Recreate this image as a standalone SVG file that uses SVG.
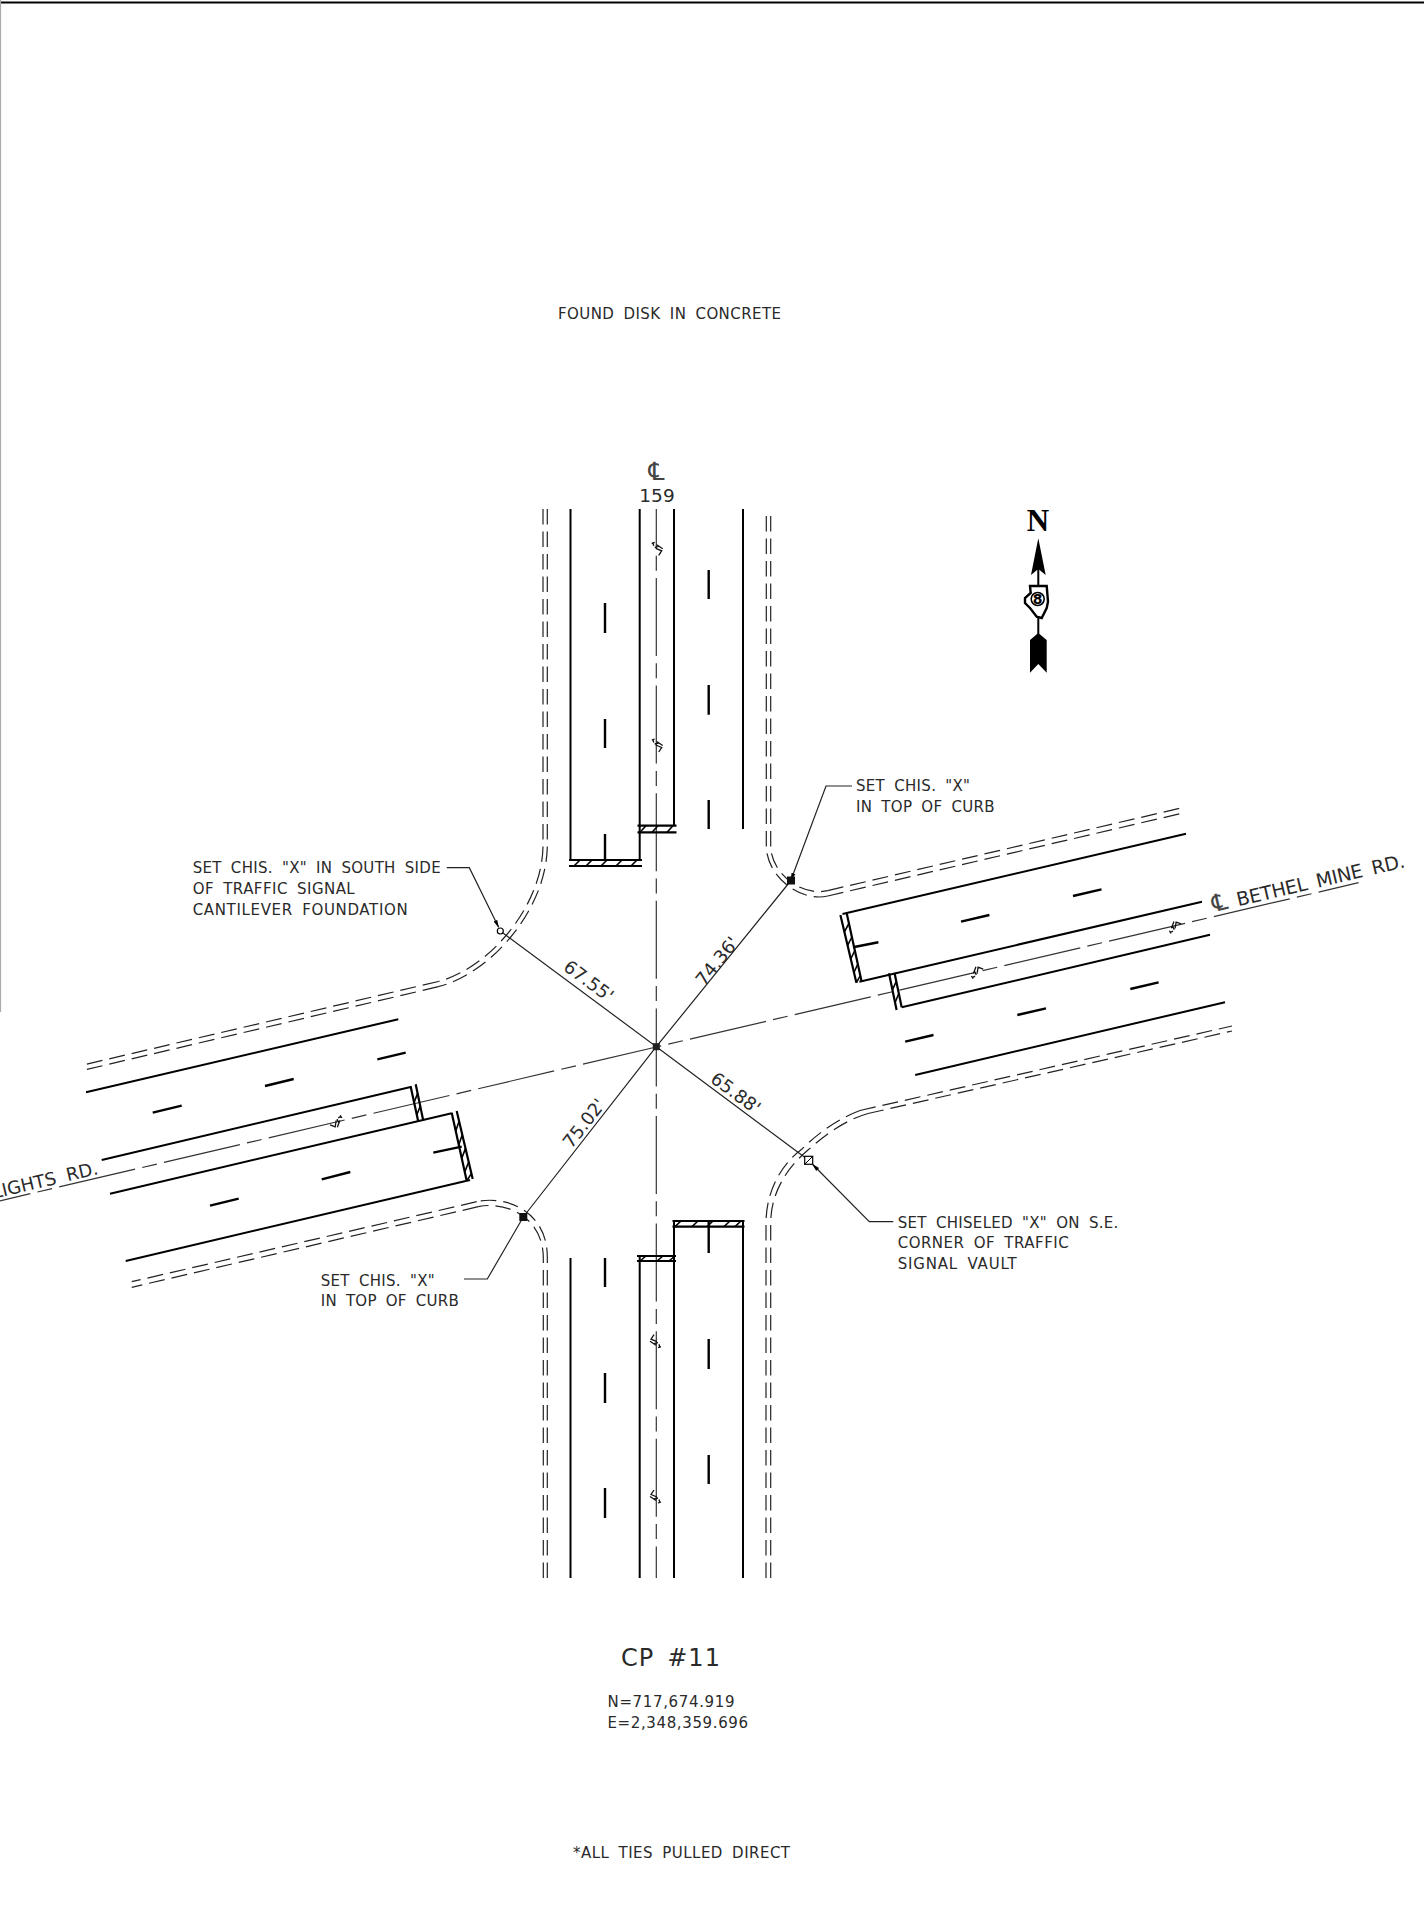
<svg xmlns="http://www.w3.org/2000/svg" width="1424" height="1916" viewBox="0 0 1424 1916">
<style>
text{font-family:"DejaVu Sans","Liberation Sans",sans-serif;fill:#2a2a2a;font-size:15px;word-spacing:4px}
.road{stroke:#000;stroke-width:2;fill:none}
.lane{stroke:#000;stroke-width:2.4;fill:none}
.bar{stroke:#000;stroke-width:2.2;fill:none}
.hatch{stroke:#000;stroke-width:1.6;fill:none}
.curbv{stroke:#222;stroke-width:1.2;fill:none;stroke-dasharray:15.5 7}
.curbh{stroke:#222;stroke-width:1.2;fill:none;stroke-dasharray:16 7}
.cl{stroke:#333;stroke-width:1.2;fill:none;stroke-dasharray:78 7.3 15 7.3}
.tie{stroke:#222;stroke-width:1.2;fill:none}
.sym{stroke:#111;stroke-width:1.3;fill:none}
</style>
<defs>
<marker id="ah" markerWidth="8" markerHeight="6" refX="7" refY="3" orient="auto" markerUnits="userSpaceOnUse"><path d="M0,1 L8,3 L0,5 Z" fill="#000"/></marker>
<g id="clsym"><path class="sym" d="M-5,-6 L-4,-2.5 M-6,-5 L-3,-6 M-1,-3.5 L5,0.5 M-2,0 L4,2.5 L1,7 M-3,-1 L1,-2"/></g>
</defs>
<rect width="1424" height="1916" fill="#fff"/>
<g id="frame">
<line x1="0" y1="2.5" x2="1424" y2="2.5" stroke="#000" stroke-width="2"/>
<line x1="0.5" y1="0" x2="0.5" y2="1012" stroke="#aaa" stroke-width="1.2"/>
</g>
<g id="centerlines">
<line class="cl" x1="656.3" y1="509" x2="656.3" y2="1578" stroke-dashoffset="38.6"/>
<line class="cl" x1="656.3" y1="1047" x2="1358.6" y2="882.7" stroke-dashoffset="73"/>
<line class="cl" x1="656.3" y1="1047" x2="0" y2="1200.8" stroke-dashoffset="2.7"/>
<use href="#clsym" transform="translate(657.7,548.3)"/>
<use href="#clsym" transform="translate(657.7,745)"/>
<use href="#clsym" transform="translate(655,1341.7) rotate(180)"/>
<use href="#clsym" transform="translate(655,1497) rotate(180)"/>
<use href="#clsym" transform="translate(976.6,971.7) rotate(-103)"/>
<use href="#clsym" transform="translate(1174.6,926.5) rotate(-103)"/>
<use href="#clsym" transform="translate(336.7,1122.3) rotate(77)"/>
</g>
<g id="roads">
<path class="road" d="M570.5,509V860M639.7,509V860M674,509V826M743,509V829"/>
<path class="road" d="M570.5,1578V1258M639.7,1578V1256M674,1578V1222M743,1578V1222"/>
<path class="road" d="M842.5,914L1186,833.8M859.4,981.7L1202,901.7M901.7,1007.3L1210,934.8M915.2,1075L1225,1002.2"/>
<path class="road" d="M398.3,1019.3L86,1092.3M411.7,1086.7L101.7,1160M451.7,1113.3L110,1193.7M470,1180L125.7,1261"/>
</g>
<g id="lane-dashes">
<path class="lane" d="M605,603V633M605,719V748M605,834V860M708.7,570V599M708.7,685V714.7M708.7,800V829"/>
<path class="lane" d="M708.7,1222V1253M605,1258V1287M708.7,1339V1369M708.7,1455V1484M605,1373V1403M605,1488V1518"/>
<path class="lane" d="M1073,896L1101.5,889.3M961,921.7L989.4,915M853,947.3L878.4,942.3M1130.3,989L1158.6,982.4M1017.3,1015L1046,1008.3M905.2,1041.7L933.5,1035"/>
<path class="lane" d="M377.3,1059.3L405.7,1052.7M265,1086L293.7,1079M152.7,1112.7L181.7,1105.7M433.3,1152.7L461.7,1146.7M321.7,1179.3L350.3,1172M210,1205.7L238.7,1198.7"/>
</g>
<g id="stop-bars">
<path class="bar" d="M569,860H642M569,866H642M637.5,825.7H676.5M637.5,832.3H676.5"/>
<path class="hatch" d="M574,866L580,860M586,866L592,860M601,866L607,860M616,866L622,860M631,866L637,860M640,832.3L646,825.7M652,832.3L658,825.7M667,832.3L673,825.7"/>
<path class="bar" d="M672.5,1221H744.5M672.5,1226.7H744.5M637,1256H676M637,1261H676"/>
<path class="hatch" d="M675,1226.7L681,1221M692,1226.7L698,1221M707,1226.7L713,1221M724,1226.7L730,1221M735,1226.7L741,1221M640,1261L646,1256M657,1261L663,1256M669,1261L675,1256"/>
<path class="bar" d="M840.4,915L856.4,982.7M846.7,913.3L861.5,981M889,973.3L896.6,1010M894.5,972.7L901.7,1007.3"/>
<path class="hatch" d="M848.9,923.5L844.4,931.9M851.9,937L847.6,945.4M854.8,950.5L850.8,959M857.8,964L854,972.5M860.3,975.6L856.4,982.7M896.3,981.4L892.4,989.8M898.8,993.5L895,1002.7"/>
<path class="bar" d="M410.7,1086.7L418.3,1121.7M415.7,1084.3L423.3,1120.7M451.7,1112.7L466.7,1180.7M456.7,1111L472.7,1179"/>
<path class="hatch" d="M417.6,1093.4L414.1,1102.5M420.3,1106.1L416.8,1114.7M459.1,1121.2L455.7,1131M462.3,1134.8L458.8,1144.7M465.5,1148.4L461.8,1158.3M468.7,1162L464.8,1171.9M471.4,1173.6L466.7,1180.7"/>
</g>
<g id="curbs">
<path class="curbv" d="M543,509V845C543,905 490,968 438.3,981.5"/>
<path class="curbv" d="M547.3,509V845C547.3,908 492,973 438.3,986.7"/>
<path class="curbh" d="M438.3,981.5L80,1065.7"/>
<path class="curbh" d="M438.3,986.7L80,1071"/>
<path class="curbv" d="M766.3,516V846C766.3,876 800,902.5 827.7,896"/>
<path class="curbv" d="M770.7,516V846C770.7,872 800,897 827.7,890.6"/>
<path class="curbh" d="M827.7,890.6L1181,808"/>
<path class="curbh" d="M827.7,896L1181,813.5"/>
<path class="curbv" d="M543.3,1578V1258C543.3,1215 503,1201 478.3,1206.7"/>
<path class="curbv" d="M547.3,1578V1257C547.3,1210 504.7,1195.2 476.7,1201.7"/>
<path class="curbh" d="M476.7,1201.7L131.7,1281.7"/>
<path class="curbh" d="M478.3,1206.7L131.7,1287.3"/>
<path class="curbv" d="M766,1578V1223C766,1195 778,1167 801.7,1149.3C820,1131 840,1118 860,1110.5"/>
<path class="curbv" d="M770.7,1578V1223C770.7,1198 782,1172 808,1150C825,1135 845,1120 868,1113.5"/>
<path class="curbh" d="M860,1110.5L1232,1026"/>
<path class="curbh" d="M868,1113.5L1232,1031"/>
</g>
<g id="ties">
<path class="tie" d="M500.3,931L656.3,1046.7L791,880.5M656.3,1046.7L808.7,1160.3M656.3,1046.7L523.3,1217"/>
<path class="tie" d="M446.7,867.7H469.3L498.5,927" marker-end="url(#ah)"/>
<path class="tie" d="M852,786H826L791,880" marker-end="url(#ah)"/>
<path class="tie" d="M893.3,1221.7H869.3L812.7,1164.5" marker-end="url(#ah)"/>
<path class="tie" d="M464,1279H487.3L523.3,1217"/>
</g>
<g id="monuments">
<rect x="652.8" y="1043.2" width="7" height="7" fill="#222"/>
<circle id="mon-nw" cx="500.3" cy="931" r="3" fill="#fff" stroke="#000" stroke-width="1.2"/>
<rect id="mon-ne" x="787" y="876.5" width="8" height="8" fill="#111"/>
<rect id="mon-sw" x="519.3" y="1213" width="8" height="8" fill="#111"/>
<g id="mon-se"><rect x="804.7" y="1156.3" width="8" height="8" fill="#fff" stroke="#000" stroke-width="1.2"/><line x1="804.7" y1="1164.3" x2="812.7" y2="1156.3" stroke="#000"/></g>
</g>
<g id="north-arrow">
<text x="1038" y="530.7" text-anchor="middle" style="font-family:'Liberation Serif',serif;font-weight:bold;font-size:31px;fill:#000">N</text>
<path d="M1038.3,538.3L1045.7,575L1038.3,569L1031,575Z" fill="#000"/>
<path d="M1038.3,569V586M1038.3,618V634" stroke="#000" stroke-width="2" fill="none"/>
<path d="M1030,586H1046.7L1048,601.7L1046.7,608L1041.7,618L1036.7,616.7L1030,608L1025,603V598L1030.7,593Z" fill="#fff" stroke="#000" stroke-width="2.4"/>
<circle cx="1037.7" cy="599" r="6.5" fill="#fff" stroke="#000" stroke-width="1.6"/>
<text x="1037.7" y="604" text-anchor="middle" style="font-size:14px;font-weight:bold;fill:#000">8</text>
<path d="M1038.3,633L1046.7,640V672.7L1038.3,664L1030,672.7V640Z" fill="#000"/>
</g>
<g id="labels">
<text id="found" x="558" y="319" textLength="223">FOUND DISK IN CONCRETE</text>
<g id="cl-159">
<text x="656.5" y="480" text-anchor="middle" style="font-size:25px;fill:#444">℄</text>
<text x="657" y="501.5" text-anchor="middle" style="font-size:18.5px;word-spacing:0">159</text>
</g>
<g id="note-nw">
<text x="192.7" y="873.3" textLength="248">SET CHIS. "X" IN SOUTH SIDE</text>
<text x="192.7" y="894" textLength="162">OF TRAFFIC SIGNAL</text>
<text x="192.7" y="914.7" textLength="215">CANTILEVER FOUNDATION</text>
</g>
<g id="note-ne">
<text x="856" y="791" textLength="114">SET CHIS. "X"</text>
<text x="856" y="811.7" textLength="138.5">IN TOP OF CURB</text>
</g>
<g id="note-se">
<text x="897.7" y="1227.7" textLength="220.7">SET CHISELED "X" ON S.E.</text>
<text x="897.7" y="1248.3" textLength="171">CORNER OF TRAFFIC</text>
<text x="897.7" y="1269" textLength="119">SIGNAL VAULT</text>
</g>
<g id="note-sw">
<text x="320.7" y="1285.7" textLength="114">SET CHIS. "X"</text>
<text x="320.7" y="1305.7" textLength="138">IN TOP OF CURB</text>
</g>
<text transform="translate(585,986) rotate(36.6)" text-anchor="middle" style="font-size:18px">67.55'</text>
<text transform="translate(722,965) rotate(-51)" text-anchor="middle" style="font-size:18px">74.36'</text>
<text transform="translate(732,1098) rotate(36.7)" text-anchor="middle" style="font-size:18px">65.88'</text>
<text transform="translate(589,1127) rotate(-52)" text-anchor="middle" style="font-size:18px">75.02'</text>
<text transform="translate(1214,912) rotate(-13.2)" textLength="197" style="font-size:19px"><tspan style="font-size:24px;fill:#444">℄</tspan> BETHEL MINE RD.</text>
<text transform="translate(99,1174) rotate(-13.2)" text-anchor="end" style="font-size:18px;word-spacing:5px">LIGHTS RD.</text>
<text x="621" y="1666" textLength="99" style="font-size:24px">CP #11</text>
<text x="607.5" y="1707" textLength="127">N=717,674.919</text>
<text x="607.5" y="1728" textLength="140.5">E=2,348,359.696</text>
<text x="573" y="1858" textLength="217">*ALL TIES PULLED DIRECT</text>
</g>
</svg>
